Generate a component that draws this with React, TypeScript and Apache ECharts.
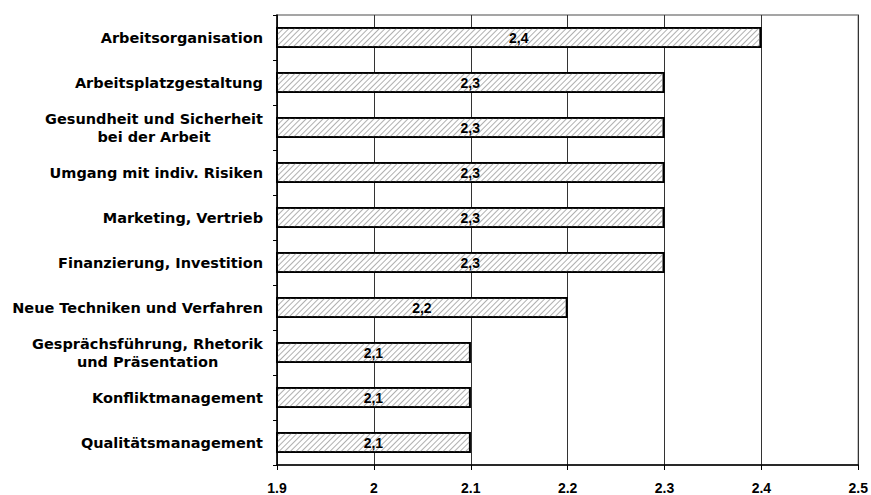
import React, { useEffect, useRef } from "react";
import * as echarts from "echarts";

const categories = [
  "Arbeitsorganisation",
  "Arbeitsplatzgestaltung",
  "Gesundheit und Sicherheit\nbei der Arbeit",
  "Umgang mit indiv. Risiken",
  "Marketing, Vertrieb",
  "Finanzierung, Investition",
  "Neue Techniken und Verfahren",
  "Gesprächsführung, Rhetorik\nund Präsentation",
  "Konfliktmanagement",
  "Qualitätsmanagement",
];
const values = [2.4, 2.3, 2.3, 2.3, 2.3, 2.3, 2.2, 2.1, 2.1, 2.1];
const xMin = 1.9;
const xMax = 2.5;
const xInterval = 0.1;

const FONT = "'Liberation Sans', Arial, Helvetica, sans-serif";
const CAT_FONT = "'DejaVu Sans', Verdana, sans-serif";

export default function App() {
  const ref = useRef<HTMLDivElement>(null);
  useEffect(() => {
    if (!ref.current) return;
    const chart = echarts.init(ref.current, null, { renderer: "svg" });
    chart.setOption({
      animation: false,
      backgroundColor: "#fff",
      grid: {
        left: 277,
        right: 11,
        top: 15,
        bottom: 28,
        show: true,
        borderColor: "#888",
        borderWidth: 1.5,
      },
      xAxis: {
        type: "value",
        min: xMin,
        max: xMax,
        interval: xInterval,
        axisLine: { show: true, lineStyle: { color: "#000", width: 1.5 } },
        axisTick: { show: true, length: 5, lineStyle: { color: "#000" } },
        splitLine: { show: true, lineStyle: { color: "#333", width: 1 } },
        axisLabel: {
          color: "#000",
          fontFamily: FONT,
          fontWeight: "bold",
          fontSize: 14,
          margin: 16,
          formatter: (v: number) => String(Math.round(v * 10) / 10),
        },
      },
      yAxis: {
        type: "category",
        inverse: true,
        data: categories,
        axisLine: { show: true, lineStyle: { color: "#000", width: 1.5 } },
        axisTick: { show: true, length: 4, lineStyle: { color: "#000" } },
        axisLabel: {
          color: "#000",
          fontFamily: CAT_FONT,
          fontWeight: "bold",
          fontSize: 14.5,
          margin: 14,
          lineHeight: 18,
          formatter: (v: string) =>
            v
              .split("\n")
              .map((s) => `{c|${s}}`)
              .join("\n"),
          rich: {
            c: {
              align: "center",
              color: "#000",
              fontFamily: CAT_FONT,
              fontWeight: "bold",
              fontSize: 14.5,
              lineHeight: 18,
            },
          },
        },
      },
      series: [
        {
          type: "bar",
          data: values,
          barWidth: "47%",
          itemStyle: {
            color: "#fff",
            borderColor: "#000",
            borderWidth: 1.8,
            decal: {
              symbol: "rect",
              symbolSize: 1,
              color: "#b0b0b0",
              dashArrayX: [1, 0],
              dashArrayY: [1, 3],
              rotation: -Math.PI / 4,
            },
          },
          label: {
            show: true,
            position: "inside",
            color: "#000",
            fontFamily: FONT,
            fontWeight: "bold",
            fontSize: 14,
            formatter: (p: any) => String(p.value).replace(".", ","),
          },
        },
      ],
    });
    return () => chart.dispose();
  }, []);
  return (
    <div
      ref={ref}
      style={{ position: "absolute", left: 0, top: 0, width: 871, height: 495 }}
    />
  );
}
